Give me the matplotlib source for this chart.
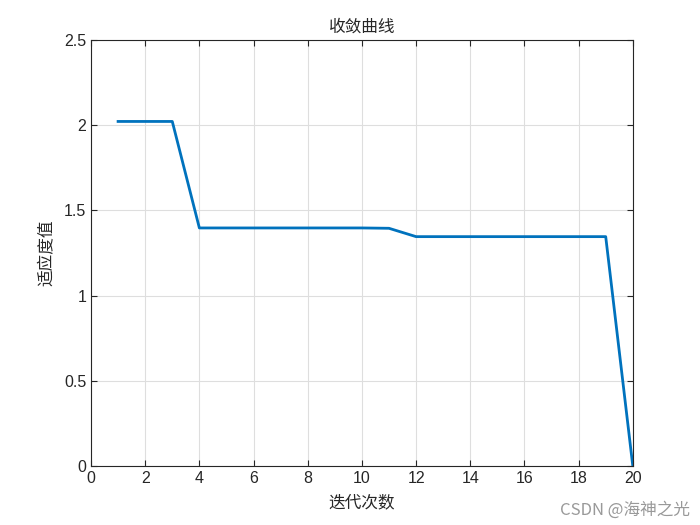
import matplotlib
matplotlib.use("Agg")
import matplotlib.pyplot as plt

plt.rcParams['font.family'] = ['Noto Sans CJK SC', 'DejaVu Sans']

iterations = list(range(1, 21))
fitness = [2.022, 2.022, 2.022, 1.397, 1.397, 1.397, 1.397, 1.397, 1.397, 1.397,
           1.395, 1.346, 1.346, 1.346, 1.346, 1.346, 1.346, 1.346, 1.346, 0.0]
title = "收敛曲线"
xlabel = "迭代次数"
ylabel = "适应度值"
xticks = list(range(0, 21, 2))
yticks = [0, 0.5, 1, 1.5, 2, 2.5]

fig = plt.figure(figsize=(7, 5.25), dpi=100)
ax = fig.add_axes([0.13, 0.1124, 0.774, 0.8114])
ax.plot(iterations, fitness, color='#0072BD', linewidth=2)
ax.set_xlim(0, 20)
ax.set_ylim(0, 2.5)
ax.set_xticks(xticks)
ax.set_yticks(yticks)
ax.set_yticklabels(['0', '0.5', '1', '1.5', '2', '2.5'])
ax.grid(True, color='#dedede', linewidth=0.8)
ax.tick_params(direction='in', top=True, right=True, labelsize=11.5, length=4, colors='#262626')
for lab in ax.get_xticklabels() + ax.get_yticklabels():
    lab.set_family('Liberation Sans')
for s in ax.spines.values():
    s.set_color('#262626')
    s.set_linewidth(0.8)
ax.set_title(title, fontsize=12, color='#262626')
ax.set_xlabel(xlabel, fontsize=12, color='#262626', labelpad=6)
ax.set_ylabel(ylabel, fontsize=12, color='#262626', labelpad=6)
fig.text(0.985, 0.012, "CSDN @海神之光", ha='right', va='bottom', fontsize=12, color='#999999')
fig.savefig('out.png', dpi=100)
